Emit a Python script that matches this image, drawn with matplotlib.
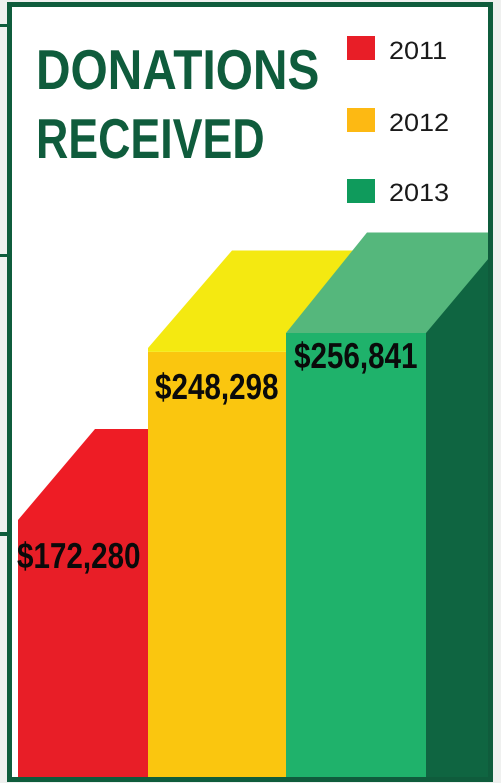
import matplotlib
matplotlib.use("Agg")
import matplotlib.pyplot as plt
import matplotlib.patheffects as pe
from matplotlib.patches import Polygon, Rectangle
from matplotlib.transforms import Affine2D

years = ["2011", "2012", "2013"]
donations = [172280, 248298, 256841]
labels = ["$172,280", "$248,298", "$256,841"]
title_lines = ["DONATIONS", "RECEIVED"]

W, H = 502, 783
fig = plt.figure(figsize=(W / 100, H / 100), dpi=100, facecolor="#eff0ef")

# value axis: truncated baseline, as the original graphic is
PX_PER_USD = (520 - 333) / (256841 - 172280)
def usd_at(py):
    return 172280 + (520 - py) / PX_PER_USD

ax = fig.add_axes([0, 0, 1, 1])
ax.set_xlim(0, W)
ax.set_ylim(usd_at(H), usd_at(0))
ax.axis("off")

def Y(py):
    return usd_at(py)
def P(pts):
    return [(x, Y(y)) for x, y in pts]


class WidthScale(pe.AbstractPathEffect):
    """Draw a real text's glyphs narrower or wider about its left anchor."""
    def __init__(self, sx, x0):
        super().__init__()
        self.sx, self.x0 = sx, x0

    def draw_path(self, renderer, gc, tpath, affine, rgbFace=None):
        a = affine + Affine2D().translate(-self.x0, 0).scale(self.sx, 1).translate(self.x0, 0)
        renderer.draw_path(gc, tpath, a, rgbFace)


GREEN = "#0f5c3c"
ax.add_patch(Rectangle((7, Y(781)), 486, Y(2) - Y(781), fc="white", ec="none", zorder=0))

base = usd_at(777)
lefts = [18, 148, 286]
widths = [130, 138, 140]
front = ["#e81e27", "#fac60f", "#1fb26b"]
top_face = ["#ee1c25", "#f4e911", "#55b77c"]

def py(v):
    return 520 - (v - 172280) * PX_PER_USD
top_y = [py(v) for v in donations]

# top faces and side
ax.add_patch(Polygon(P([(18, top_y[0]), (95, 429), (149, 429), (149, top_y[0])]), fc=top_face[0], ec="none", zorder=1))
ax.add_patch(Polygon(P([(148, top_y[1]), (148, 348), (232, 250.5), (353, 250.5), (288, top_y[1])]), fc=top_face[1], ec="none", zorder=1))
ax.add_patch(Polygon(P([(286, top_y[2]), (367, 232.5), (489, 232.5), (489, 262), (427, top_y[2])]), fc=top_face[2], ec="none", zorder=2))
ax.add_patch(Polygon(P([(426, top_y[2]), (489, 258), (489, 777), (426, 777)]), fc="#0f6541", ec="none", zorder=3))

ax.bar(lefts, [v - base for v in donations], width=widths, bottom=base,
       align="edge", color=front, linewidth=0, zorder=4)

# frame
for x, y, w, h in [(7, 2, 486, 5), (7, 777, 486, 5), (7, 2, 5, 780), (488, 2, 5, 780)]:
    ax.add_patch(Rectangle((x, Y(y + h)), w, Y(y) - Y(y + h), fc=GREEN, ec="none", zorder=6))
for y in [25.5, 255.5, 534]:
    ax.add_patch(Rectangle((0, Y(y + 1.7)), 8, Y(y - 1.7) - Y(y + 1.7), fc=GREEN, ec="none", zorder=6))

def T(px, pyy, s, sx=1.0, **kw):
    return ax.text(px, Y(pyy), s, zorder=8, family="Liberation Sans", ha="left",
                   va="baseline", path_effects=[WidthScale(sx, px)], **kw)

for s, yy, sx in zip(title_lines, [89, 158], [0.85, 0.795]):
    T(36, yy, s, sx=sx, fontsize=40.5, fontweight="bold", color=GREEN)

# legend
leg_y = [36, 108, 179]
leg_base = [59, 131, 201]
for c, y, b, yr in zip(["#e81e27", "#fdb913", "#0f9b5c"], leg_y, leg_base, years):
    ax.add_patch(Rectangle((347, Y(y + 24)), 28, Y(y) - Y(y + 24), fc=c, ec="none", zorder=7))
    T(389, b, yr, sx=1.08, fontsize=18, color="#1a1a1a")

# value labels
lab_x = [17, 155, 294]
lab_y = [568, 399, 368]
for x, y, s in zip(lab_x, lab_y, labels):
    T(x, y, s, sx=0.82, fontsize=26, fontweight="bold", color="#0a0a0a")

fig.savefig("out.png", dpi=100, facecolor=fig.get_facecolor())
